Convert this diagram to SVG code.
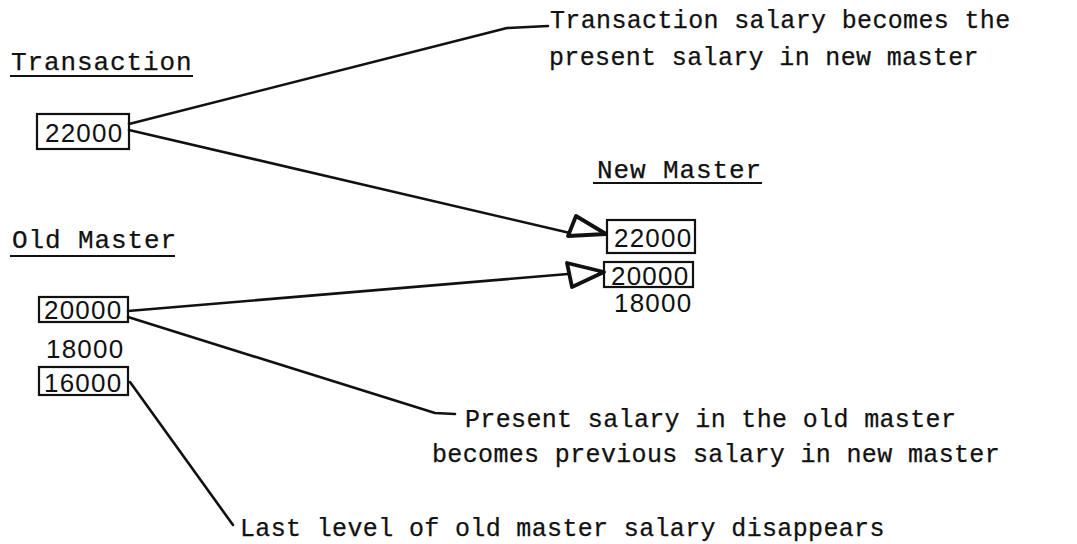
<svg xmlns="http://www.w3.org/2000/svg" width="1077" height="544" viewBox="0 0 1077 544">
  <style>
    .bg { fill: #ffffff; }
    .mono { font-family: "Liberation Mono", "DejaVu Sans Mono", monospace; font-size: 25px; letter-spacing: 0.35px; fill: #111; stroke: #111; stroke-width: 0.25; }
    .head { font-family: "Liberation Mono", "DejaVu Sans Mono", monospace; font-size: 26px; letter-spacing: 0.9px; fill: #111; stroke: #111; stroke-width: 0.25; }
    .num { font-family: "Liberation Sans", Arial, sans-serif; font-size: 26px; letter-spacing: 1.2px; fill: #111; }
    .box { fill: none; stroke: #111; stroke-width: 2.2; }
    .rule { stroke: #111; stroke-width: 2; }
    .wire { fill: none; stroke: #111; stroke-width: 2.6; stroke-linecap: round; stroke-linejoin: round; }
    .head-arrow { fill: #fff; stroke: #111; stroke-width: 3.8; stroke-linejoin: round; }
  </style>
  <rect class="bg" x="0" y="0" width="1077" height="544"/>

  <!-- section headings -->
  <g id="heading-transaction">
    <text class="head" x="11" y="70">Transaction</text>
    <line class="rule" x1="10" y1="76" x2="193" y2="76"/>
  </g>
  <g id="heading-old-master">
    <text class="head" x="12" y="248">Old Master</text>
    <line class="rule" x1="10" y1="256" x2="175" y2="256"/>
  </g>
  <g id="heading-new-master">
    <text class="head" x="597" y="178">New Master</text>
    <line class="rule" x1="593" y1="183" x2="762" y2="183"/>
  </g>

  <!-- transaction record -->
  <g id="txn-22000">
    <rect class="box" x="37" y="114" width="92" height="35"/>
    <text class="num" x="45" y="142">22000</text>
  </g>

  <!-- old master record -->
  <g id="old-20000">
    <rect class="box" x="39" y="297" width="89" height="25"/>
    <text class="num" x="44" y="319">20000</text>
  </g>
  <g id="old-18000">
    <text class="num" x="46" y="358">18000</text>
  </g>
  <g id="old-16000">
    <rect class="box" x="39" y="367" width="89" height="28"/>
    <text class="num" x="44" y="392">16000</text>
  </g>

  <!-- new master record -->
  <g id="new-22000">
    <rect class="box" x="607" y="220" width="88" height="33"/>
    <text class="num" x="614" y="247">22000</text>
  </g>
  <g id="new-20000">
    <rect class="box" x="604" y="262" width="89" height="25"/>
    <text class="num" x="611" y="285">20000</text>
  </g>
  <g id="new-18000">
    <text class="num" x="614" y="312">18000</text>
  </g>

  <!-- annotations -->
  <g id="note-transaction">
    <text class="mono" x="550" y="28">Transaction salary becomes the</text>
    <text class="mono" x="549" y="65">present salary in new master</text>
  </g>
  <g id="note-present">
    <text class="mono" x="465" y="427">Present salary in the old master</text>
    <text class="mono" x="432" y="462">becomes previous salary in new master</text>
  </g>
  <g id="note-last">
    <text class="mono" x="240" y="536">Last level of old master salary disappears</text>
  </g>

  <!-- connectors -->
  <g id="connectors">
    <polyline class="wire" points="129,124 507,28 548,26"/>
    <line class="wire" x1="129" y1="130" x2="570" y2="233"/>
    <line class="wire" x1="128" y1="311" x2="568" y2="274"/>
    <polyline class="wire" points="128,317 435,413 455,414"/>
    <line class="wire" x1="130" y1="382" x2="233" y2="525"/>
    <polygon class="head-arrow" points="576,216 568,236 606,234"/>
    <polygon class="head-arrow" points="567,263 572,287 604,272"/>
  </g>
</svg>
